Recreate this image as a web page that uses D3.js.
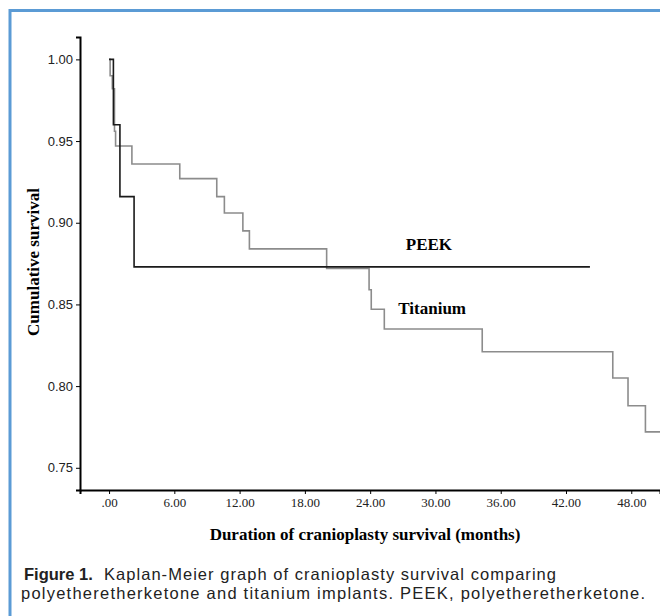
<!DOCTYPE html>
<html>
<head>
<meta charset="utf-8">
<script src="https://cdn.jsdelivr.net/npm/d3@7"></script>
<style>
  body { margin: 0; background: #fff; }
  svg { display: block; }
</style>
</head>
<body>
<svg id="chart"></svg>
<script>
// Kaplan-Meier survival steps (months, cumulative survival)
var peekTimes = [0, 0.4, 1.0, 2.3, 44.2];
var peekSurv = [1.00, 0.96, 0.916, 0.873, 0.873];

var titaniumTimes = [0, 0.1, 0.3, 0.5, 0.6, 2.1, 6.5, 9.9, 10.6, 12.3, 12.9, 20.0, 23.9, 24.1, 25.3, 34.3, 46.3, 47.7, 49.3, 51.0];
var titaniumSurv = [1.00, 0.990, 0.982, 0.956, 0.947, 0.936, 0.927, 0.916, 0.906, 0.895, 0.884, 0.872, 0.859, 0.847, 0.835, 0.821, 0.805, 0.788, 0.772, 0.772];

var xTicks = [0, 6, 12, 18, 24, 30, 36, 42, 48];
var yTicks = [0.75, 0.80, 0.85, 0.90, 0.95, 1.00];

var svgWidth = 660, svgHeight = 616;

var svg = d3.select("#chart")
  .attr("width", svgWidth)
  .attr("height", svgHeight);

//blue frame (left + top edges only, rest is cropped)
svg.append("path")
  .attr("d", "M10,616 V10.5 H660")
  .attr("fill", "none")
  .attr("stroke", "#5b9bd5")
  .attr("stroke-width", 3);

var x = d3.scaleLinear()
  .domain([-2.67, 50.64])
  .range([80, 660]);

var y = d3.scaleLinear()
  .domain([0.7364, 1.0137])
  .range([490, 37]);

//x axis
var xAxis = svg.append("g")
  .attr("transform", "translate(0,490)")
  .call(d3.axisBottom(x)
    .tickValues(xTicks)
    .tickSizeOuter(0)
    .tickSize(4)
    .tickPadding(4)
    .tickFormat(function(d){ return d === 0 ? ".00" : d.toFixed(2); }));
xAxis.select(".domain").attr("stroke-width", 2);
xAxis.selectAll("text")
  .style("font-family", "'Liberation Serif', 'Times New Roman', serif")
  .style("font-size", "13px")
  .attr("fill", "#222");

//y axis
var yAxis = svg.append("g")
  .attr("transform", "translate(80,0)")
  .call(d3.axisLeft(y)
    .tickValues(yTicks)
    .tickSizeOuter(0)
    .tickSize(4)
    .tickPadding(3)
    .tickFormat(d3.format(".2f")));
yAxis.select(".domain").attr("stroke-width", 2);
yAxis.selectAll("text")
  .style("font-family", "'Liberation Sans Narrow', 'Arial Narrow', 'Liberation Sans', sans-serif")
  .style("font-size", "13px")
  .attr("fill", "#222");

//step lines
var line = d3.line()
  .curve(d3.curveStepAfter)
  .x(function(d){ return x(d[0]); })
  .y(function(d){ return y(d[1]); });

var titanium = d3.zip(titaniumTimes, titaniumSurv);
var peek = d3.zip(peekTimes, peekSurv);

svg.append("path")
  .attr("d", line(titanium))
  .attr("fill", "none")
  .attr("stroke", "#8c8c8c")
  .attr("stroke-width", 1.6);

svg.append("path")
  .attr("d", line(peek))
  .attr("fill", "none")
  .attr("stroke", "#1a1a1a")
  .attr("stroke-width", 1.6);

//series labels
var serif = "'Liberation Serif', 'Times New Roman', serif";
svg.append("text")
  .attr("x", x(29.4)).attr("y", y(0.8835))
  .attr("text-anchor", "middle")
  .style("font-family", serif).style("font-weight", "bold").style("font-size", "17px")
  .text("PEEK");

svg.append("text")
  .attr("x", x(29.7)).attr("y", y(0.8440))
  .attr("text-anchor", "middle")
  .style("font-family", serif).style("font-weight", "bold").style("font-size", "17px")
  .text("Titanium");

//axis titles
svg.append("text")
  .attr("x", 365).attr("y", 540)
  .attr("text-anchor", "middle")
  .style("font-family", serif).style("font-weight", "bold").style("font-size", "17px")
  .text("Duration of cranioplasty survival (months)");

svg.append("text")
  .attr("transform", "translate(39,262) rotate(-90)")
  .attr("text-anchor", "middle")
  .style("font-family", serif).style("font-weight", "bold").style("font-size", "17px")
  .text("Cumulative survival");

//caption
var capFont = "'Liberation Sans', Arial, sans-serif";
var cap = svg.append("text")
  .attr("x", 24).attr("y", 580)
  .style("font-family", capFont)
  .style("font-size", "16.5px")
  .attr("fill", "#222");
cap.append("tspan").style("font-weight", "bold").text("Figure 1.");
cap.append("tspan")
  .attr("x", 104)
  .attr("textLength", 452)
  .attr("lengthAdjust", "spacing")
  .text("Kaplan-Meier graph of cranioplasty survival comparing");
svg.append("text")
  .attr("x", 21).attr("y", 599)
  .attr("textLength", 624)
  .attr("lengthAdjust", "spacing")
  .style("font-family", capFont)
  .style("font-size", "16.5px")
  .attr("fill", "#222")
  .text("polyetheretherketone and titanium implants. PEEK, polyetheretherketone.");
</script>
</body>
</html>
